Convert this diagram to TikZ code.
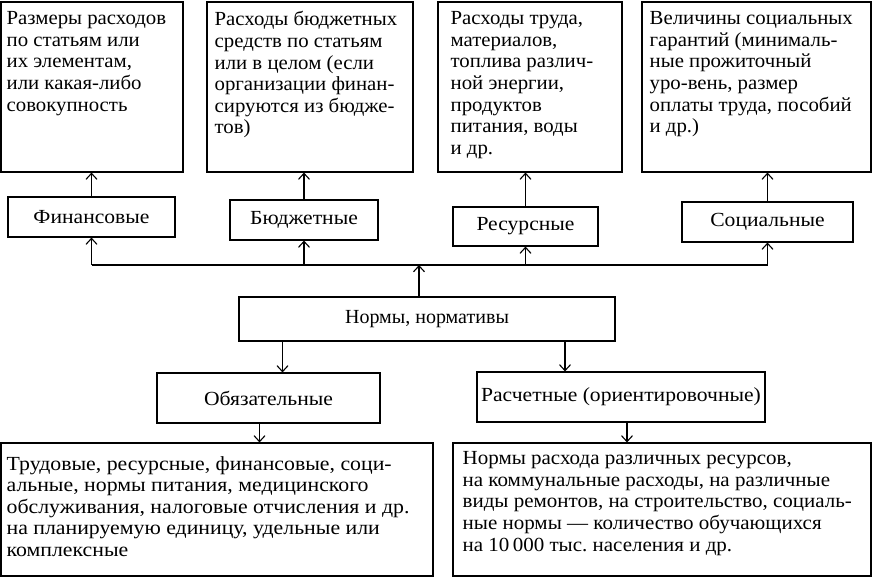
\documentclass[tikz,border=0pt]{standalone}
\usepackage{fontspec}
\setmainfont{Liberation Serif}
\newfontfamily\topfont{Liberation Serif}[FakeStretch=1.04]
\newfontfamily\lblfont{Liberation Serif}[FakeStretch=1.08]
\newfontfamily\leftfont{Liberation Serif}[FakeStretch=1.09]
\newfontfamily\rightfont{Liberation Serif}[FakeStretch=1.05]
\frenchspacing
\usetikzlibrary{arrows.meta,positioning,calc}

\tikzset{
  box/.style={draw, line width=1.1pt, inner sep=0pt},
  txt/.style={anchor=north west, align=left, inner sep=0pt,
    font=\topfont\fontsize{20}{21.6}\selectfont},
  lbl/.style={box, font=\lblfont\fontsize{20}{22}\selectfont},
  arr/.style={-{Straight Barb[length=6pt,width=11pt]}, line width=1.1pt},
}

\begin{document}
\begin{tikzpicture}[x=1pt,y=-1pt]
\useasboundingbox (0,0) rectangle (872,578);
% top row
\node[box,minimum width=182,minimum height=170] (d1) at (92,87) {};
\node[box,minimum width=206,minimum height=170] (d2) at (310,87) {};
\node[box,minimum width=184,minimum height=170] (d3) at (530,87) {};
\node[box,minimum width=229,minimum height=170] (d4) at (756.5,87) {};
\node[txt] (d1t) at ([xshift=6pt,yshift=-10pt]d1.north west)
  {Размеры расходов\\по статьям или\\их элементам,\\или какая-либо\\совокупность};
\node[txt] (d2t) at ([xshift=8pt,yshift=-10pt]d2.north west)
  {Расходы бюджетных\\средств по статьям\\или в целом (если\\организации финан-\\сируются из бюдже-\\тов)};
\node[txt] (d3t) at ([xshift=13pt,yshift=-10pt]d3.north west)
  {Расходы труда,\\материалов,\\топлива различ-\\ной энергии,\\продуктов\\питания, воды\\и др.};
\node[txt] (d4t) at ([xshift=8pt,yshift=-10pt]d4.north west)
  {Величины социальных\\гарантий (минималь-\\ные прожиточный\\уро-вень, размер\\оплаты труда, пособий\\и др.)};
% kinds
\node[lbl,minimum width=167,minimum height=40] (fin) at (91.5,217) {Финансовые};
\node[lbl,minimum width=148,minimum height=40] (bud) at (304,220) {Бюджетные};
\node[lbl,minimum width=145,minimum height=39] (res) at (525.5,226.5) {Ресурсные};
\node[lbl,minimum width=171,minimum height=40] (soc) at (767.5,222) {Социальные};
\node[lbl,minimum width=376,minimum height=44,font=\rmfamily\fontsize{20}{22}\selectfont]
  (norm) at (427,319) {Нормы, нормативы};
\node[lbl,minimum width=223,minimum height=50] (obl) at (268.5,398) {Обязательные};
\node[lbl,minimum width=288,minimum height=50] (ras) at (621,397) {Расчетные (ориентировочные)};
% bottom row
\node[box,minimum width=432,minimum height=133] (b1) at (217,509.5) {};
\node[box,minimum width=418,minimum height=133] (b2) at (662,509.5) {};
\node[txt,font=\leftfont\fontsize{20}{21.4}\selectfont] (b1t)
  at ([xshift=6pt,yshift=-14pt]b1.north west)
  {Трудовые, ресурсные, финансовые, соци-\\альные, нормы питания, медицинского\\обслуживания, налоговые отчисления и др.\\на планируемую единицу, удельные или\\комплексные};
\node[txt,font=\rightfont\fontsize{20}{21.6}\selectfont] (b2t)
  at ([xshift=10pt,yshift=-9pt]b2.north west)
  {Нормы расхода различных ресурсов,\\на коммунальные расходы, на различные\\виды ремонтов, на строительство, социаль-\\ные нормы — количество обучающихся\\на 10\,000 тыс. населения и др.};
% connectors
\coordinate (bus) at (419,265);
\draw[line width=1.1pt] (fin.south |- bus) -- (soc.south |- bus);
\draw[arr] (norm.north -| bus) -- (bus);
\foreach \k in {fin,bud,res,soc}
  \draw[arr] (\k.south |- bus) -- (\k.south);
\draw[arr] (fin.north) -- (fin.north |- d1.south);
\draw[arr] (bud.north) -- (bud.north |- d2.south);
\draw[arr] (res.north) -- (res.north |- d3.south);
\draw[arr] (soc.north) -- (soc.north |- d4.south);
\draw[arr] ([xshift=14pt]obl.north |- norm.south) -- ([xshift=14pt]obl.north);
\draw[arr] ([xshift=-56pt]ras.north |- norm.south) -- ([xshift=-56pt]ras.north);
\draw[arr] ([xshift=-9pt]obl.south) -- ([xshift=-9pt]obl.south |- b1.north);
\draw[arr] ([xshift=6pt]ras.south) -- ([xshift=6pt]ras.south |- b2.north);
\end{tikzpicture}
\end{document}
